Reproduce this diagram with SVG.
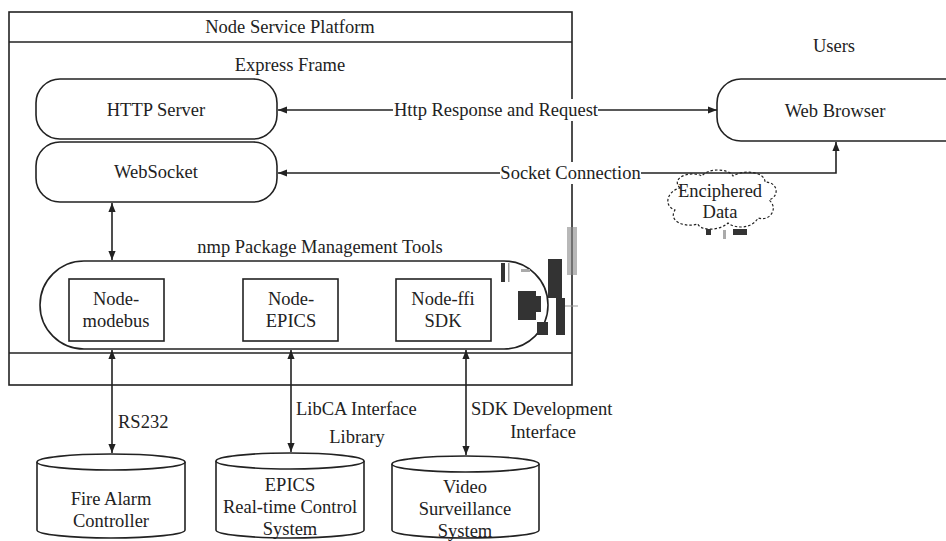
<svg xmlns="http://www.w3.org/2000/svg" width="946" height="541" viewBox="0 0 946 541">
<style>
text{font-family:"Liberation Serif","Times New Roman",serif;font-size:18.5px;fill:#222;}
.c{text-anchor:middle;}
.s{fill:none;stroke:#222;stroke-width:1.6;}
.w{fill:#fff;stroke:#222;stroke-width:1.6;}
.ln{fill:none;stroke:#222;stroke-width:1.6;}
.blob{fill:#333;}
.gr{fill:#b8b8b8;}
</style>
<defs>
<marker id="ah" viewBox="0 0 10 10" refX="10" refY="5" markerWidth="9" markerHeight="9" markerUnits="userSpaceOnUse" orient="auto-start-reverse">
<path d="M0,1 L10,5 L0,9 z" fill="#222"/>
</marker>
</defs>
<g id="platform">
<rect class="s" x="9" y="12" width="563" height="373"/>
<line class="ln" x1="9" y1="42" x2="572" y2="42"/>
<line class="ln" x1="9" y1="353" x2="572" y2="353"/>
<text class="c" x="290" y="33">Node Service Platform</text>
<text class="c" x="290" y="71">Express Frame</text>
</g>
<g id="http-server">
<rect class="w" x="36" y="79" width="241" height="60" rx="24"/>
<text class="c" x="156" y="116">HTTP Server</text>
</g>
<g id="websocket">
<rect class="w" x="36" y="142" width="241" height="60" rx="24"/>
<text class="c" x="156" y="178">WebSocket</text>
</g>
<g id="nmp">
<text class="c" x="320" y="253">nmp Package Management Tools</text>
<rect class="w" x="40" y="261" width="508" height="88" rx="44"/>
</g>
<g id="node-modebus">
<rect class="w" x="69" y="279" width="95" height="62"/>
<text class="c" x="116" y="305">Node-</text>
<text class="c" x="116" y="327">modebus</text>
</g>
<g id="node-epics">
<rect class="w" x="243" y="279" width="95" height="62"/>
<text class="c" x="291" y="305">Node-</text>
<text class="c" x="291" y="327">EPICS</text>
</g>
<g id="node-ffi">
<rect class="w" x="396" y="279" width="95" height="62"/>
<text class="c" x="443" y="305">Node-ffi</text>
<text class="c" x="443" y="327">SDK</text>
</g>
<g id="users">
<text class="c" x="834" y="52">Users</text>
</g>
<g id="web-browser">
<rect class="w" x="717" y="79" width="260" height="62" rx="24"/>
<text class="c" x="835" y="117">Web Browser</text>
</g>
<g id="enciphered-data">
<path d="M680,188 C670,178 690,170 702,176 C708,168 728,168 733,176 C744,169 765,172 765,182 C778,182 780,196 769,200 C779,208 770,222 758,218 C752,229 735,229 728,223 C720,231 700,231 698,224 C684,228 668,221 675,210 C663,206 667,191 680,188 z" fill="#fff" stroke="#222" stroke-width="1.2" stroke-dasharray="2.5,2"/>
<text class="c" x="720" y="197">Enciphered</text>
<text class="c" x="720" y="218">Data</text>
<rect class="blob" x="706" y="229" width="5" height="6"/>
<rect class="blob" x="733" y="229" width="14" height="6"/>
<rect x="723" y="230" width="3" height="9" fill="#aaa"/>
</g>
<g id="fire-alarm">
<path class="w" d="M37,462 L37,530 A74,8 0 0 0 185,530 L185,462"/>
<ellipse class="w" cx="111" cy="462" rx="74" ry="8"/>
<text class="c" x="111" y="505">Fire Alarm</text>
<text class="c" x="111" y="527">Controller</text>
</g>
<g id="epics-system">
<path class="w" d="M216,461 L216,530 A74,8 0 0 0 364,530 L364,461"/>
<ellipse class="w" cx="290" cy="461" rx="74" ry="8"/>
<text class="c" x="290" y="491">EPICS</text>
<text class="c" x="290" y="513">Real-time Control</text>
<text class="c" x="290" y="535">System</text>
</g>
<g id="video-system">
<path class="w" d="M392,464 L392,530 A73.5,8 0 0 0 539,530 L539,464"/>
<ellipse class="w" cx="465.5" cy="464" rx="73.5" ry="8"/>
<text class="c" x="465" y="493">Video</text>
<text class="c" x="465" y="515">Surveillance</text>
<text class="c" x="465" y="537">System</text>
</g>
<g id="artifacts">
<rect class="gr" x="567" y="227" width="10" height="48"/>
<line x1="572" y1="227" x2="572" y2="275" stroke="#444" stroke-width="1.2"/>
<line x1="556" y1="306" x2="578" y2="306" stroke="#999" stroke-width="1"/>
<rect class="blob" x="501" y="263" width="4" height="19"/>
<rect x="508" y="263" width="1.5" height="19" fill="#999"/>
<rect x="521" y="269" width="9" height="3" fill="#aaa"/>
<rect class="blob" x="548" y="259" width="14" height="39"/>
<rect class="blob" x="556" y="298" width="9" height="37"/>
<rect class="blob" x="518" y="291" width="18" height="29"/>
<rect class="blob" x="536" y="296" width="5" height="16"/>
<rect class="blob" x="537" y="322" width="11" height="13"/>
</g>
<g id="connectors">
<line class="ln" x1="717" y1="110" x2="278" y2="110" marker-end="url(#ah)" marker-start="url(#ah)"/>
<rect x="393" y="99" width="205" height="22" fill="#fff"/>
<text class="c" x="496" y="116">Http Response and Request</text>
<polyline class="ln" points="278,173 836,173 836,142" marker-end="url(#ah)" marker-start="url(#ah)"/>
<rect x="500" y="162" width="141" height="22" fill="#fff"/>
<text class="c" x="570.5" y="179">Socket Connection</text>
<line class="ln" x1="112" y1="203" x2="112" y2="260" marker-end="url(#ah)" marker-start="url(#ah)"/>
<line class="ln" x1="112" y1="350" x2="112" y2="453" marker-end="url(#ah)" marker-start="url(#ah)"/>
<line class="ln" x1="291" y1="350" x2="291" y2="452" marker-end="url(#ah)" marker-start="url(#ah)"/>
<line class="ln" x1="466" y1="350" x2="466" y2="455" marker-end="url(#ah)" marker-start="url(#ah)"/>
<text x="118" y="428">RS232</text>
<text x="296" y="415">LibCA Interface</text>
<text class="c" x="357" y="443">Library</text>
<text x="471" y="415">SDK Development</text>
<text class="c" x="543" y="438">Interface</text>
</g>
</svg>
